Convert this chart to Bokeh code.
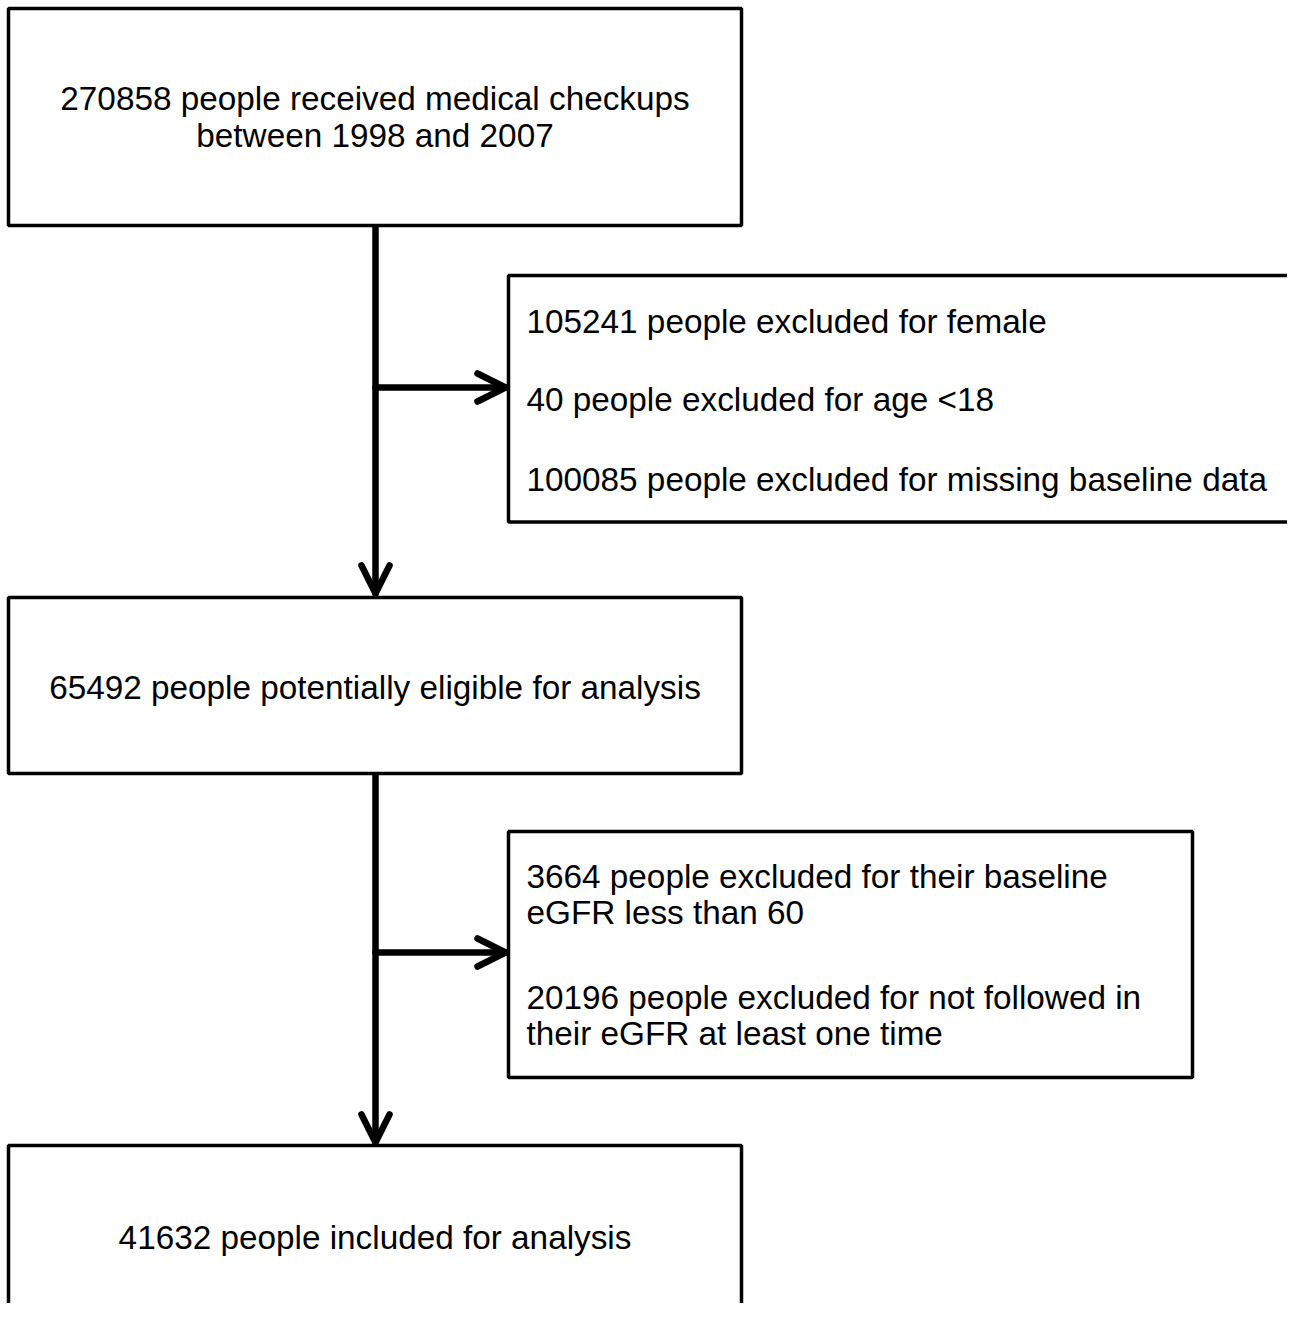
from bokeh.plotting import figure
from bokeh.models import Range1d
from bokeh.core.properties import value
from bokeh.embed import file_html
from bokeh.resources import INLINE

# ---- content (flowchart texts) ----
main_box_texts = [
    ["270858 people received medical checkups", "between 1998 and 2007"],
    ["65492 people potentially eligible for analysis"],
    ["41632 people included for analysis"],
]
exclusion_box_texts = [
    ["105241 people excluded for female",
     "40 people excluded for age <18",
     "100085 people excluded for missing baseline data"],
    ["3664 people excluded for their baseline",
     "eGFR less than 60",
     "20196 people excluded for not followed in",
     "their eGFR at least one time"],
]

# ---- layout (pixel-like coordinates, y grows downward) ----
main_boxes = [  # left, right, top, bottom
    (8, 741, 8, 225),
    (8, 741, 597, 773),
    (8, 741, 1145, 1340),
]
main_baselines = [[109, 146.5], [698], [1248]]
excl_boxes = [
    (508, 1330, 275, 521.5),
    (508, 1192, 831, 1077),
]
excl_baselines = [[332, 410, 490], [887, 923, 1008, 1044]]
text_shift = -11.5
text_left = 526
spine_x = 375
branch_y = [387, 952]
arrow_tip_x = 505
down_tips = [(225, 593), (773, 1142)]

FONT = value("Liberation Sans")
FSIZE = "33.3px"

W, H = 1287, 1303
p = figure(width=W, height=H, output_backend="svg", toolbar_location=None,
           x_range=Range1d(0, W), y_range=Range1d(H, 0),
           min_border=0)
p.axis.visible = False
p.grid.visible = False
p.outline_line_color = None
p.background_fill_color = "white"
p.border_fill_color = "white"

# connectors (drawn first, boxes on top)
L, HW, AW = 28, 14, 6.5
xs, ys = [], []
for (ys0, ys1) in down_tips:
    xs.append([spine_x, spine_x]); ys.append([ys0, ys1])
    xs.append([spine_x - HW, spine_x, spine_x + HW]); ys.append([ys1 - L, ys1, ys1 - L])
for by in branch_y:
    xs.append([spine_x, arrow_tip_x]); ys.append([by, by])
    xs.append([arrow_tip_x - L, arrow_tip_x, arrow_tip_x - L]); ys.append([by - HW, by, by + HW])
p.multi_line(xs=xs, ys=ys, line_color="black", line_width=AW,
             line_cap="round", line_join="round")

# boxes
allb = main_boxes + excl_boxes
p.quad(left=[b[0] for b in allb], right=[b[1] for b in allb],
       top=[b[2] for b in allb], bottom=[b[3] for b in allb],
       fill_color="white", line_color="black", line_width=3.5)

# main box texts (centered)
tx, ty, tt = [], [], []
for box, lines, bls in zip(main_boxes, main_box_texts, main_baselines):
    cx = (box[0] + box[1]) / 2
    for t, b in zip(lines, bls):
        tx.append(cx); ty.append(b + text_shift); tt.append(t)
p.text(x=tx, y=ty, text=tt, text_font=FONT, text_font_size=FSIZE,
       text_align="center", text_baseline="alphabetic", text_color="black")

# exclusion texts (left aligned)
ex, ey, et = [], [], []
for lines, bls in zip(exclusion_box_texts, excl_baselines):
    for t, b in zip(lines, bls):
        ex.append(text_left); ey.append(b + text_shift); et.append(t)
p.text(x=ex, y=ey, text=et, text_font=FONT, text_font_size=FSIZE,
       text_align="left", text_baseline="alphabetic", text_color="black")

open("out.html", "w").write(file_html(p, INLINE))
